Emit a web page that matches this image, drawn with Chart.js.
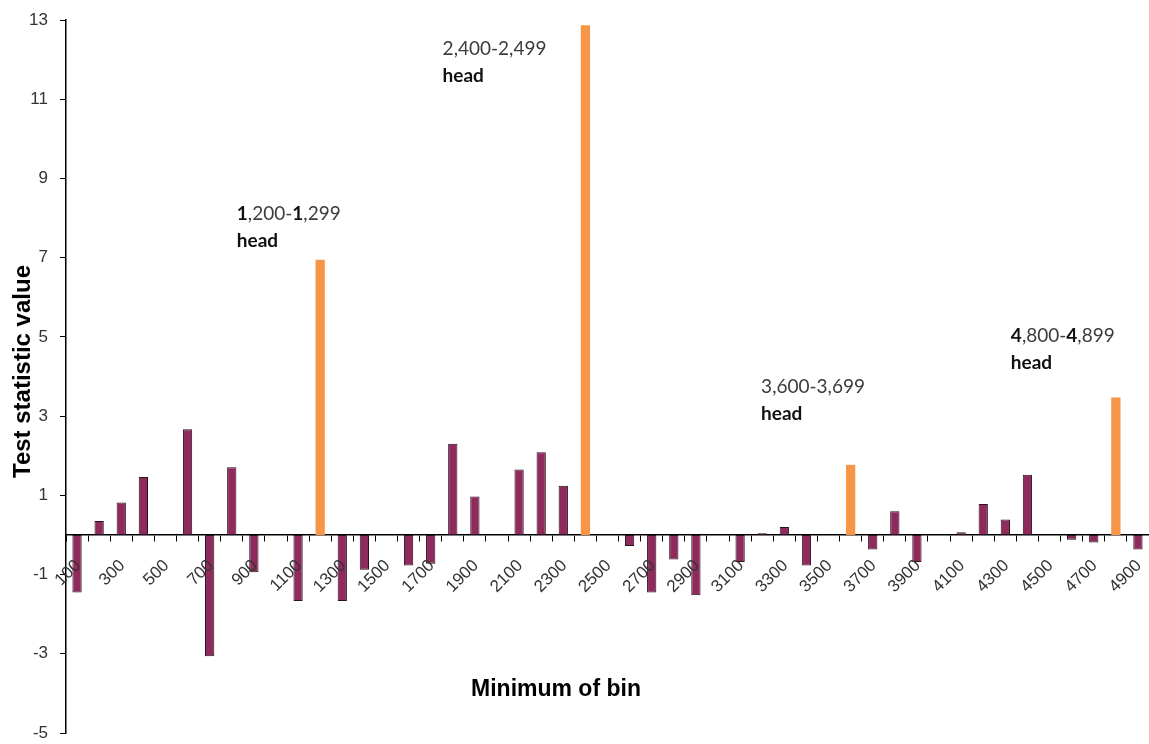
<!DOCTYPE html>
<html>
<head>
<meta charset="utf-8">
<script src="https://cdn.jsdelivr.net/npm/chart.js@4.4.1/dist/chart.umd.min.js"></script>
<style>
  html, body { margin: 0; padding: 0; background: #fff; }
  canvas { display: block; }
</style>
</head>
<body>
<canvas id="chart" width="1149" height="744"></canvas>
<script>
// Lower edge of each 100-wide bin
const binMinimums = [
  100, 200, 300, 400, 500, 600, 700, 800, 900, 1000,
  1100, 1200, 1300, 1400, 1500, 1600, 1700, 1800, 1900, 2000,
  2100, 2200, 2300, 2400, 2500, 2600, 2700, 2800, 2900, 3000,
  3100, 3200, 3300, 3400, 3500, 3600, 3700, 3800, 3900, 4000,
  4100, 4200, 4300, 4400, 4500, 4600, 4700, 4800, 4900
];

// Test statistic for each bin
const testStatistic = [
  -1.45, 0.35, 0.82, 1.46, 0, 2.67, -3.06, 1.71, -0.94, 0,
  -1.67, 6.95, -1.67, -0.88, 0, -0.77, -0.73, 2.30, 0.97, 0,
  1.65, 2.09, 1.24, 12.87, 0, -0.28, -1.45, -0.62, -1.52, 0,
  -0.68, 0.04, 0.20, -0.77, 0, 1.77, -0.37, 0.60, -0.68, 0,
  0.07, 0.78, 0.39, 1.52, 0, -0.12, -0.19, 3.47, -0.37
];

// Bins that start a "head"
const headBins = [1200, 2400, 3600, 4800];
const headRanges = ['1,200-1,299', '2,400-2,499', '3,600-3,699', '4,800-4,899'];
const headWord = 'head';

// Value axis tick labels
const yTickValues = [-5, -3, -1, 1, 3, 5, 7, 9, 11, 13];

// ---- styling ----
const PLUM = '#8E2A5C';
const ORANGE = '#F79646';
const TICK_FONT = { family: '"Liberation Sans", Arial, sans-serif', size: 17 };
const TICK_COLOR = '#333';
const TITLE_FAMILY = '"Liberation Sans", Arial, sans-serif';
const NOTE_FAMILY = 'Lato, "Open Sans", sans-serif';

// where each head note sits (category index, y value) and which characters render bold
const notePlacement = [
  { index: 7.23,  value: 7.94,  boldAt: [0, 6] },
  { index: 16.54, value: 12.11, boldAt: [] },
  { index: 30.95, value: 3.58,  boldAt: [] },
  { index: 42.25, value: 4.87,  boldAt: [0, 6] }
];

const isHead = binMinimums.map(b => headBins.includes(b));
const barColors = isHead.map(h => h ? ORANGE : PLUM);
const barBorders = isHead.map(h => h ? 0 : 1);

const overlay = {
  id: 'overlay',
  afterDraw(chart) {
    const { ctx, chartArea, scales: { x, y } } = chart;
    const zeroY = y.getPixelForValue(0);
    ctx.save();

    // category labels, every second bin, slanted along the zero line
    ctx.font = `${TICK_FONT.size}px ${TICK_FONT.family}`;
    ctx.fillStyle = TICK_COLOR;
    ctx.textAlign = 'right';
    ctx.textBaseline = 'middle';
    binMinimums.forEach((b, i) => {
      if (i % 2 !== 0) return;
      ctx.save();
      ctx.translate(x.getPixelForValue(i) + 1, zeroY + 28);
      ctx.rotate(-Math.PI / 4);
      ctx.fillText(String(b), 0, 0);
      ctx.restore();
    });

    // head notes
    notePlacement.forEach((p, i) => {
      const px = x.getPixelForValue(p.index);
      const py = y.getPixelForValue(p.value);
      const text = headRanges[i];
      ctx.textBaseline = 'alphabetic';
      ctx.textAlign = 'left';
      let cx = px;
      for (let k = 0; k < text.length; k++) {
        const bold = p.boldAt.includes(k);
        ctx.font = (bold ? 'bold ' : '') + '19px ' + NOTE_FAMILY;
        ctx.fillStyle = bold ? '#111' : '#3c3c3c';
        ctx.fillText(text[k], cx, py);
        cx += ctx.measureText(text[k]).width;
      }
      ctx.font = 'bold 19px ' + NOTE_FAMILY;
      ctx.fillStyle = '#111';
      ctx.fillText(headWord, px, py + 27);
    });

    // axis titles
    ctx.fillStyle = '#000';
    ctx.font = 'bold 23px ' + TITLE_FAMILY;
    ctx.textAlign = 'center';
    ctx.textBaseline = 'alphabetic';
    ctx.fillText('Minimum of bin', chartArea.left + 490, chartArea.bottom - 37);

    ctx.translate(23, (chartArea.top + chartArea.bottom) / 2 - 5);
    ctx.rotate(-Math.PI / 2);
    ctx.font = 'bold 24px ' + TITLE_FAMILY;
    ctx.textBaseline = 'middle';
    ctx.fillText('Test statistic value', 0, 0);

    ctx.restore();
  }
};

new Chart(document.getElementById('chart'), {
  type: 'bar',
  data: {
    labels: binMinimums.map(String),
    datasets: [{
      data: testStatistic,
      backgroundColor: barColors,
      borderColor: '#2a1020',
      borderWidth: barBorders,
      borderSkipped: false,
      barPercentage: 0.42,
      categoryPercentage: 1
    }]
  },
  options: {
    responsive: false,
    devicePixelRatio: 1,
    animation: false,
    layout: { padding: { top: 20, bottom: 11, left: 0, right: 0 } },
    plugins: { legend: { display: false }, tooltip: { enabled: false } },
    scales: {
      x: {
        position: { y: 0 },
        offset: true,
        grid: { offset: true, drawOnChartArea: false, drawTicks: true, tickLength: 6, color: '#000', lineWidth: 1 },
        border: { display: true, color: '#000', width: 1.5 },
        ticks: { display: false, autoSkip: false },
        afterFit(scale) { scale.height = 0; scale.paddingLeft = 0; scale.paddingRight = 0; }
      },
      y: {
        min: -5,
        max: 13,
        afterBuildTicks(scale) { scale.ticks = yTickValues.map(v => ({ value: v })); },
        grid: { drawOnChartArea: false, drawTicks: true, tickLength: 6, color: '#000', lineWidth: 1 },
        border: { display: true, color: '#000', width: 1.5 },
        ticks: { padding: 12, font: TICK_FONT, color: TICK_COLOR },
        afterFit(scale) { scale.width = 66; scale.paddingTop = 0; scale.paddingBottom = 0; }
      }
    }
  },
  plugins: [overlay]
});
</script>
</body>
</html>
